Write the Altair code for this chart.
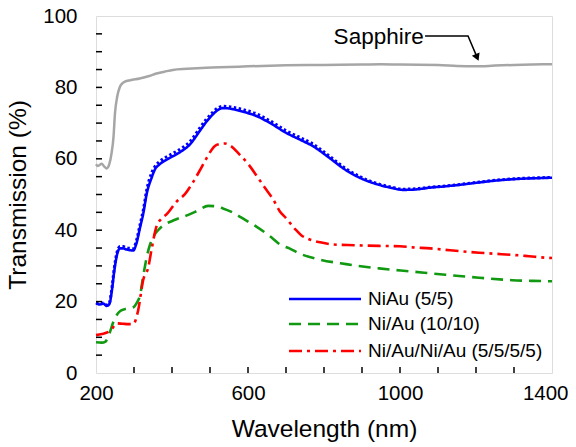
import altair as alt
import pandas as pd

# ---------------- data ----------------
sap_wl = [200, 205, 215, 222, 228, 235, 241, 246, 250, 256, 263, 270, 276, 290, 315, 340, 359,
          380, 402, 440, 490, 550, 600, 700, 800, 900, 950, 1000, 1100, 1150, 1200, 1250, 1300, 1350, 1400]
sap_val = [58.5, 58.0, 58.6, 57.8, 57.3, 58.5, 61.6, 66.0, 72.8, 77.5, 80.2, 81.2, 81.6, 82.0, 82.5, 83.2, 83.9,
           84.4, 84.9, 85.2, 85.5, 85.7, 85.9, 86.2, 86.3, 86.4, 86.5, 86.4, 86.3, 86.0, 85.9, 86.1, 86.3, 86.4, 86.5]

blue_wl = [200, 210, 220, 228, 235, 241, 248, 255, 263, 272, 280, 290, 298, 305, 316, 325, 333, 346, 355, 368,
           390, 412, 430, 447, 460, 473, 490, 508, 520, 534, 550, 560, 590, 622, 660, 700, 740, 770, 810, 858,
           900, 945, 980, 1007, 1040, 1077, 1120, 1164, 1210, 1252, 1300, 1339, 1370, 1400]
blue_val = [19.5, 19.2, 19.4, 18.8, 19.3, 22.5, 28.5, 33.0, 34.9, 34.9, 34.6, 34.4, 34.3, 35.8, 40.8, 45.0, 50.0,
            54.6, 57.0, 58.5, 60.0, 61.3, 62.5, 64.0, 65.8, 67.8, 70.3, 72.5, 73.6, 74.2, 74.1, 73.9, 73.1, 72.0,
            69.9, 67.3, 65.2, 63.6, 60.6, 56.8, 54.4, 52.7, 51.8, 51.3, 51.4, 51.9, 52.3, 52.8, 53.4, 53.9, 54.3,
            54.5, 54.6, 54.7]
blue_dot_val = [19.7, 19.5, 19.6, 19.1, 19.6, 23.1, 29.3, 33.7, 35.4, 35.4, 35.1, 34.9, 34.8, 36.5, 41.6, 45.9,
                51.0, 55.9, 57.8, 59.3, 60.8, 62.1, 63.3, 64.8, 66.6, 68.6, 71.0, 73.1, 74.2, 74.7, 74.6, 74.4,
                73.7, 72.6, 70.5, 67.9, 65.8, 64.2, 61.1, 57.2, 54.7, 52.9, 52.0, 51.5, 51.6, 52.0, 52.4, 52.9,
                53.5, 54.0, 54.4, 54.6, 54.7, 54.8]

red_wl = [200, 215, 237, 245, 254, 270, 285, 298, 311, 324, 338, 346, 359, 372, 386, 412, 434, 455, 474, 490,
          513, 525, 539, 555, 575, 600, 623, 645, 667, 683, 700, 724, 740, 762, 790, 823, 880, 945, 1000, 1033,
          1080, 1120, 1160, 1208, 1250, 1295, 1340, 1383, 1400]
red_val = [10.6, 10.9, 11.8, 12.8, 13.9, 13.8, 13.7, 13.7, 17.6, 26.0, 29.8, 34.5, 41.0, 43.2, 44.5, 48.0, 50.1,
           53.4, 56.9, 60.0, 63.6, 64.1, 64.3, 63.6, 61.5, 58.6, 55.2, 51.8, 48.5, 45.4, 43.4, 40.3, 38.6, 37.4,
           36.6, 36.0, 35.8, 35.6, 35.5, 35.2, 34.9, 34.5, 34.1, 33.7, 33.4, 33.1, 32.7, 32.3, 32.2]

green_wl = [200, 215, 225, 232, 250, 262, 276, 298, 308, 316, 324, 338, 351, 368, 380, 403, 443, 470, 495, 515,
            534, 555, 578, 600, 622, 665, 683, 709, 735, 788, 858, 945, 1033, 1120, 1208, 1295, 1350, 1400]
green_val = [8.6, 8.5, 8.8, 10.2, 15.4, 17.2, 17.9, 18.4, 19.8, 21.8, 27.0, 34.5, 38.2, 40.5, 41.5, 42.7, 44.3,
             45.6, 46.8, 46.7, 46.1, 45.2, 43.8, 42.4, 41.0, 37.7, 36.1, 34.9, 33.5, 31.8, 30.5, 29.3, 28.4, 27.5,
             26.7, 26.0, 25.8, 25.7]

series_names = ["NiAu (5/5)", "Ni/Au (10/10)", "Ni/Au/Ni/Au (5/5/5/5)"]
series_colors = ["#0000ff", "#119911", "#ff0000"]
series_dash = [[1, 0], [12, 7], [13, 5, 3, 5]]

x_label_values = [200, 600, 1000, 1400]
y_label_values = [0, 20, 40, 60, 80, 100]
x_tick_values = [300, 400, 500, 600, 700, 800, 900, 1000, 1100, 1200, 1300]
y_tick_values = [5, 10, 15, 20, 25, 30, 35, 40, 45, 50, 55, 60, 65, 70, 75, 80, 85, 90, 95]

sap_label = ["Sapphire"]
sap_label_xy = [1065, 94.2]
arrow_wl = [1066, 1179, 1203]
arrow_val = [94.4, 94.4, 88.4]

# legend layout (pixels inside the plot area)
legend_row_y = [283, 308, 335]
legend_x = [193, 265, 272]

FONT = "Liberation Sans"

# ---------------- tables ----------------
main_df = pd.concat([
    pd.DataFrame({"wl": blue_wl, "T": blue_val, "series": series_names[0], "order": range(len(blue_wl))}),
    pd.DataFrame({"wl": green_wl, "T": green_val, "series": series_names[1], "order": range(len(green_wl))}),
    pd.DataFrame({"wl": red_wl, "T": red_val, "series": series_names[2], "order": range(len(red_wl))}),
])
sap_df = pd.DataFrame({"wl": sap_wl, "T": sap_val})
dot_df = pd.DataFrame({"wl": blue_wl, "T": blue_dot_val})
xt_df = pd.DataFrame({"wl": x_tick_values})
yt_df = pd.DataFrame({"T": y_tick_values})
arrow_df = pd.DataFrame({"wl": arrow_wl, "T": arrow_val, "o": range(3)})
label_df = pd.DataFrame({"wl": [sap_label_xy[0]], "T": [sap_label_xy[1]], "text": sap_label})
head_df = pd.DataFrame({"wl": [arrow_wl[-1]], "T": [arrow_val[-1]]})
leg_df = pd.DataFrame({"series": series_names, "py": legend_row_y})

xscale = alt.Scale(domain=[200, 1400], nice=False, zero=False)
yscale = alt.Scale(domain=[0, 100], nice=False)
cscale = alt.Scale(domain=series_names, range=series_colors)
dscale = alt.Scale(domain=series_names, range=series_dash)

last_x = x_label_values[-1]
x_enc = alt.X("wl:Q", scale=xscale,
              axis=alt.Axis(values=x_label_values, format="d", title="Wavelength (nm)", ticks=False,
                            domain=False, grid=False, labelFlush=False, labelPadding=10, titlePadding=14,
                            labelAlign={"condition": {"test": f"datum.value == {last_x}", "value": "right"},
                                        "value": "center"},
                            labelOffset={"condition": {"test": f"datum.value == {last_x}", "value": 16},
                                         "value": 0},
                            labelFontSize=20.5, titleFontSize=24.5, labelFont=FONT, titleFont=FONT,
                            labelColor="black", titleColor="black", titleFontWeight="normal"))
y_enc = alt.Y("T:Q", scale=yscale,
              axis=alt.Axis(values=y_label_values, format="d", title="Transmission (%)", ticks=False,
                            domain=False, grid=False, labelFlush=False, labelPadding=19, titlePadding=12,
                            labelFontSize=20.5, titleFontSize=24.5, labelFont=FONT, titleFont=FONT,
                            labelColor="black", titleColor="black", titleFontWeight="normal"))

sapphire = alt.Chart(sap_df).mark_line(color="#a6a6a6", strokeWidth=2.5, interpolate="monotone").encode(
    x=x_enc, y=y_enc)

main = alt.Chart(main_df).mark_line(strokeWidth=2.6, interpolate="monotone").encode(
    x="wl:Q", y="T:Q", order="order:Q",
    color=alt.Color("series:N", scale=cscale, legend=None),
    strokeDash=alt.StrokeDash("series:N", scale=dscale, legend=None),
)

dotted = alt.Chart(dot_df).mark_line(color="#0000ff", strokeWidth=3, strokeDash=[2.5, 2.5],
                                     interpolate="monotone").encode(x="wl:Q", y="T:Q")

xticks = alt.Chart(xt_df).mark_rule(color="black", strokeWidth=1.5).encode(
    x="wl:Q", y=alt.value(357), y2=alt.value(351))
yticks = alt.Chart(yt_df).mark_rule(color="black", strokeWidth=1.5).encode(
    y="T:Q", x=alt.value(0), x2=alt.value(6))

arrow = alt.Chart(arrow_df).mark_line(color="black", strokeWidth=1.5).encode(
    x="wl:Q", y="T:Q", order="o:Q")
head = alt.Chart(head_df).mark_point(shape="triangle-up", filled=True, color="black", size=70,
                                     angle=157, opacity=1).encode(x="wl:Q", y="T:Q")
label = alt.Chart(label_df).mark_text(align="right", baseline="middle", fontSize=22.5, font=FONT,
                                      color="black", dx=-1).encode(x="wl:Q", y="T:Q", text="text:N")

leg_lines = alt.Chart(leg_df).mark_rule(strokeWidth=2.6).encode(
    x=alt.value(legend_x[0]), x2=alt.value(legend_x[1]),
    y=alt.Y("py:Q", scale=None),
    color=alt.Color("series:N", scale=cscale, legend=None),
    strokeDash=alt.StrokeDash("series:N", scale=dscale, legend=None),
)
leg_text = alt.Chart(leg_df).mark_text(align="left", baseline="middle", fontSize=19, font=FONT,
                                       color="black").encode(
    x=alt.value(legend_x[2]), y=alt.Y("py:Q", scale=None), text="series:N")

chart = alt.layer(sapphire, main, dotted, xticks, yticks, arrow, head, label, leg_lines, leg_text).properties(
    width=456, height=357,
    autosize=alt.AutoSizeParams(type="none"),
    padding={"left": 88, "top": 8, "right": 16, "bottom": 72},
).configure_view(stroke="black", strokeWidth=2).configure(background="white")

chart.save("out.html", embed_options={"renderer": "svg", "actions": False})
